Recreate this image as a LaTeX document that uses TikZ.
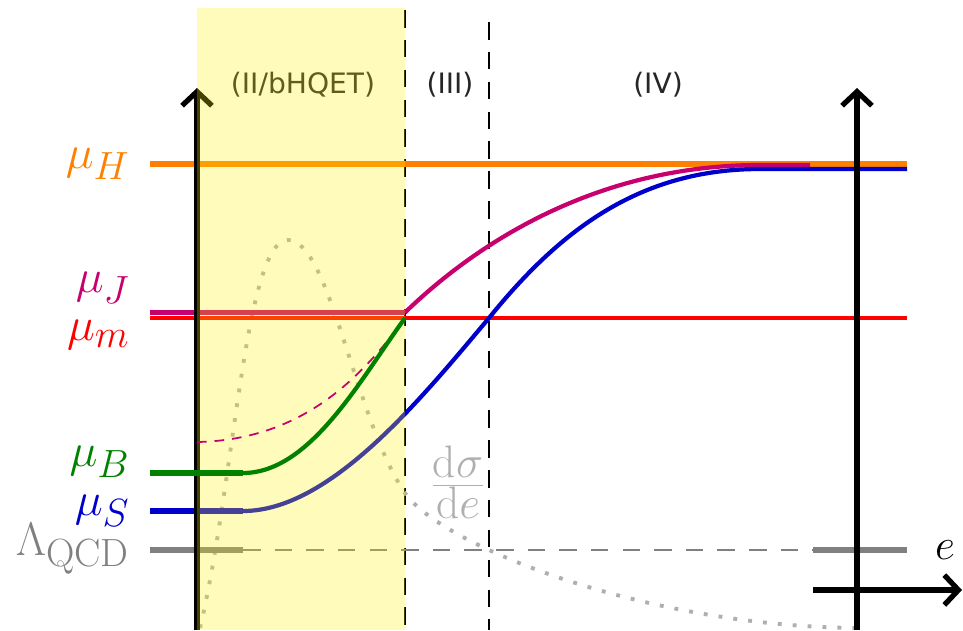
\documentclass[tikz,border=0pt]{standalone}
\usepackage{fontspec}
\newfontfamily\regfont{DejaVu Sans}
\usetikzlibrary{arrows.meta}
\definecolor{colH}{RGB}{255,128,0}
\definecolor{colJ}{RGB}{200,0,110}
\definecolor{colM}{RGB}{255,0,0}
\definecolor{colB}{RGB}{0,130,0}
\definecolor{colS}{RGB}{0,0,205}
\definecolor{colQ}{RGB}{128,128,128}
\definecolor{colX}{RGB}{175,175,175}
\tikzset{
  axis/.style={line width=3pt, -{Straight Barb[length=8pt,width=17pt]}},
  scalelab/.style={anchor=east, font=\Huge, inner sep=0pt, scale=1.08},
  region/.style={font=\regfont\fontsize{16}{19}\selectfont, text=black!85},
  stub/.style={line width=3pt},
  run/.style={line width=2.4pt},
  border/.style={line width=0.8pt, dash pattern=on 10pt off 7pt},
  xsec/.style={colX, line width=2.2pt, dash pattern=on 2.2pt off 6.3pt},
}

\begin{document}
\begin{tikzpicture}[x=0.02cm, y=-0.02cm]
    \useasboundingbox (0,0) rectangle (963,630);
    % regions
    \node[region] (reg2) at (303,85) {(II/bHQET)};
    \node[region] (reg3) at (450,85) {(III)};
    \node[region] (reg4) at (658,85) {(IV)};
    \draw[border] (405,10) -- (405,630);
    \draw[border] (489,22) -- (489,630);
    % cross section
    \draw[xsec] (200,628) .. controls (235,480) and (245,240) .. (288,240)
      .. controls (330,240) and (355,420) .. (405,493)
      .. controls (440,544) and (640,626) .. (857,628);
    \node[colX, font=\Huge, scale=1.25] (dsig) at (458,482) {$\frac{\mathrm{d}\sigma}{\mathrm{d}e}$};
    % scales
    \coordinate (H1) at (150,164);  \coordinate (H2) at (907,164);
    \coordinate (J1) at (150,312.5); \coordinate (J2) at (405,312.5);
    \coordinate (M1) at (150,318);  \coordinate (M2) at (907,318);
    \coordinate (B1) at (150,473);  \coordinate (B2) at (243,473);
    \coordinate (S1) at (150,511);  \coordinate (S2) at (243,511);
    \coordinate (Q1) at (150,550);  \coordinate (Q2) at (243,550);
    \coordinate (Q3) at (813,550);  \coordinate (Q4) at (907,550);
    \coordinate (Jm) at (405,318);  \coordinate (Sm) at (489,318);
    \draw[colH, stub] (H1) -- (H2);
    \draw[colJ, stub] (J1) -- (J2);
    \draw[colM, line width=2.2pt] (M1) -- (M2);
    \draw[colQ, stub] (Q1) -- (Q2);
    \draw[colQ, line width=0.8pt, dash pattern=on 10pt off 8pt] (Q2) -- (Q3);
    \draw[colQ, stub] (Q3) -- (Q4);
    \draw[colS, stub] (S1) -- (S2);
    % running
    \draw[colJ, run] (J2) .. controls (480,240) and (600,165) .. (760,165) -- (810,165);
    \draw[colS, run] (S2) .. controls (330,511) and (420,400) .. (Sm)
      .. controls (560,230) and (640,169) .. (760,169) -- (907,169);
    % axes
    \draw[axis] (197,630) -- (197,88);
    \draw[axis] (857,630) -- (857,88);
    \draw[axis] (813,590) -- (962,590);
    \fill[yellow, fill opacity=0.27] (197,8) rectangle (405,630);
    % beam function
    \draw[colJ, line width=1pt, dash pattern=on 5.5pt off 4.5pt] (197,442) .. controls (300,440) and (360,380) .. (Jm);
    \draw[colB, stub] (B1) -- (B2);
    \draw[colB, run] (B2) .. controls (310,473) and (360,380) .. (Jm);
    % labels
    \node[scalelab, colH] (labH) at (130,164) {$\mu_H$};
    \node[scalelab, colJ] (labJ) at (130,288) {$\mu_J$};
    \node[scalelab, colM] (labM) at (130,335) {$\mu_m$};
    \node[scalelab, colB] (labB) at (130,462) {$\mu_B$};
    \node[scalelab, colS] (labS) at (130,511) {$\mu_S$};
    \node[scalelab, colQ] (labQ) at (130,549) {$\Lambda_{\mathrm{QCD}}$};
    \node[font=\Huge] (labE) at (945,550) {$e$};
\end{tikzpicture}
\end{document}
